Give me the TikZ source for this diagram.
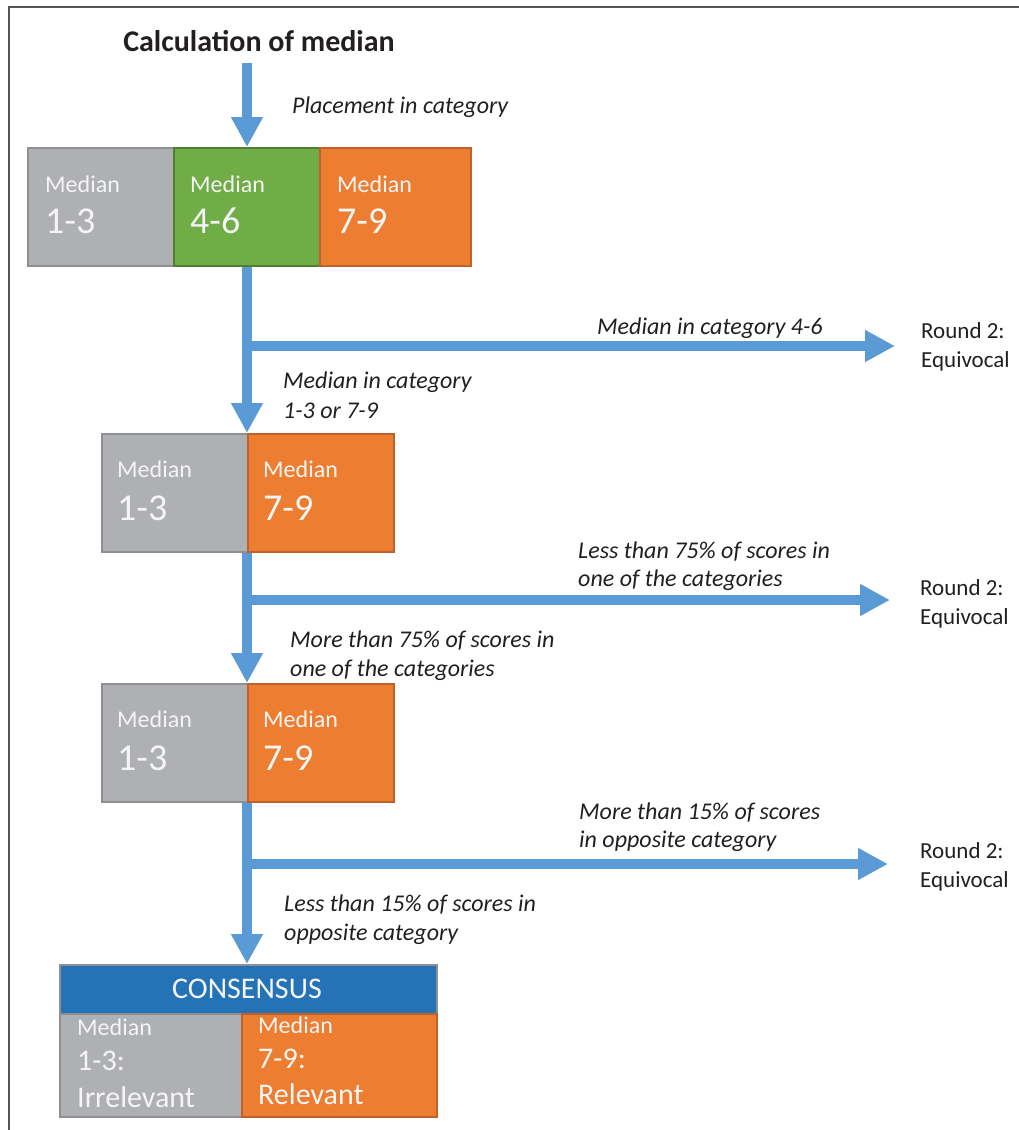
\documentclass[tikz,border=0pt]{standalone}
\usepackage{fontspec}
\setmainfont{Carlito}
\usetikzlibrary{arrows.meta}
\definecolor{flowblue}{HTML}{5B9BD5}
\definecolor{cgray}{HTML}{AFB0B3}
\definecolor{cgrayb}{HTML}{8E8F92}
\definecolor{cgreen}{HTML}{70AD47}
\definecolor{cgreenb}{HTML}{507E32}
\definecolor{corange}{HTML}{ED7D31}
\definecolor{coranb}{HTML}{C0602A}
\definecolor{cblue}{HTML}{2573B7}
\definecolor{txt}{HTML}{231F20}
\definecolor{framec}{HTML}{555555}
\tikzset{
  shaft/.style={draw=flowblue, line width=10pt, -{Triangle[width=30pt,length=30pt]}},
  plainshaft/.style={draw=flowblue, line width=10pt},
  cell/.style={anchor=north west, inner sep=0pt, line width=1.5pt},
  graycell/.style={cell, fill=cgray, draw=cgrayb},
  greencell/.style={cell, fill=cgreen, draw=cgreenb},
  orangecell/.style={cell, fill=corange, draw=coranb},
  bluecell/.style={cell, fill=cblue, draw=cgrayb},
  small/.style={anchor=base west, inner sep=0pt, text=white!96!black, font=\fontsize{24}{28}\selectfont},
  big/.style={anchor=base west, inner sep=0pt, text=white!96!black, font=\fontsize{38}{44}\selectfont},
  mid/.style={anchor=base west, inner sep=0pt, text=white!96!black, font=\fontsize{30}{36}\selectfont},
  lbl/.style={anchor=base west, inner sep=0pt, text=txt, font=\itshape\fontsize{24}{28}\selectfont},
  rnd/.style={anchor=base west, inner sep=0pt, text=txt, font=\fontsize{23}{28}\selectfont},
}
\begin{document}
\begin{tikzpicture}[x=1pt, y=-1pt]
\useasboundingbox (0,0) rectangle (1019,1130);
\draw[framec, line width=1.5pt] (9,1130) -- (9,7) -- (1019,7);

% title
\node[anchor=base, inner sep=0pt, text=txt, font=\bfseries\fontsize{30}{36}\selectfont] (title) at (259,51) {Calculation of median};
\coordinate (start) at (247,63);
\node[lbl] (lplace) at (292,113) {Placement in category};

% row 1
\node[graycell, minimum width=146pt, minimum height=118pt] (a1) at (27,147) {};
\node[greencell, minimum width=146pt, minimum height=118pt] (a2) at (173,147) {};
\node[orangecell, minimum width=151pt, minimum height=118pt] (a3) at (319,147) {};
\node[small] (a1m) at (45,192) {Median};
\node[big] (a1n) at (45,233) {1-3};
\node[small] (a2m) at (190,192) {Median};
\node[big] (a2n) at (190,233) {4-6};
\node[small] (a3m) at (337,192) {Median};
\node[big] (a3n) at (337,233) {7-9};

% row 2
\node[graycell, minimum width=146pt, minimum height=118pt] (b1) at (101,433) {};
\node[orangecell, minimum width=146pt, minimum height=118pt] (b2) at (247,433) {};
\node[small] (b1m) at (117,477) {Median};
\node[big] (b1n) at (117,520) {1-3};
\node[small] (b2m) at (263,477) {Median};
\node[big] (b2n) at (263,520) {7-9};

% row 3
\node[graycell, minimum width=146pt, minimum height=118pt] (c1) at (101,683) {};
\node[orangecell, minimum width=146pt, minimum height=118pt] (c2) at (247,683) {};
\node[small] (c1m) at (117,727) {Median};
\node[big] (c1n) at (117,770) {1-3};
\node[small] (c2m) at (263,727) {Median};
\node[big] (c2n) at (263,770) {7-9};

% consensus
\node[bluecell, minimum width=377pt, minimum height=49pt] (d0) at (59,964) {};
\node[graycell, minimum width=182pt, minimum height=103pt] (d1) at (59,1013) {};
\node[orangecell, minimum width=195pt, minimum height=103pt] (d2) at (241,1013) {};
\node[anchor=base, inner sep=0pt, text=white!96!black, font=\fontsize{30}{36}\selectfont] (cons) at (247,998) {CONSENSUS};
\node[small] (d1m) at (77,1035) {Median};
\node[mid] (d1n) at (77,1070) {1-3:};
\node[mid] (d1t) at (77,1107) {Irrelevant};
\node[small] (d2m) at (258,1033) {Median};
\node[mid] (d2n) at (258,1068) {7-9:};
\node[mid] (d2t) at (258,1104) {Relevant};

% round 2 texts
\node[rnd] (r1) at (921,338) {Round 2:};
\node[rnd] (r1b) at (921,367) {Equivocal};
\node[rnd] (r2) at (920,595) {Round 2:};
\node[rnd] (r2b) at (920,624) {Equivocal};
\node[rnd] (r3) at (920,858) {Round 2:};
\node[rnd] (r3b) at (920,887) {Equivocal};

% labels
\node[lbl] (l1) at (597,334) {Median in category 4-6};
\node[lbl] (l2a) at (283,388) {Median in category};
\node[lbl] (l2b) at (283,418) {1-3 or 7-9};
\node[lbl] (l3a) at (578,558) {Less than 75\% of scores in};
\node[lbl] (l3b) at (578,586) {one of the categories};
\node[lbl] (l4a) at (290,647) {More than 75\% of scores in};
\node[lbl] (l4b) at (290,676) {one of the categories};
\node[lbl] (l5a) at (579,819) {More than 15\% of scores};
\node[lbl] (l5b) at (579,847) {in opposite category};
\node[lbl] (l6a) at (284,911) {Less than 15\% of scores in};
\node[lbl] (l6b) at (284,940) {opposite category};

% junctions
\coordinate (j1) at (247,346);
\coordinate (j2) at (247,600);
\coordinate (j3) at (247,864);

% connectors
\draw[shaft] (start) -- (start |- a2.north);
\draw[shaft] (a2.south -| start) -- (start |- b1.north);
\draw[shaft] (b2.south west) -- (c2.north west);
\draw[shaft] (c2.south west) -- (c2.south west |- d0.north);
\draw[shaft, shorten >=26pt] (j1) -- (j1 -| r1.west);
\draw[shaft, shorten >=30pt] (j2) -- (j2 -| r2.west);
\draw[shaft, shorten >=32pt] (j3) -- (j3 -| r3.west);
\end{tikzpicture}
\end{document}
